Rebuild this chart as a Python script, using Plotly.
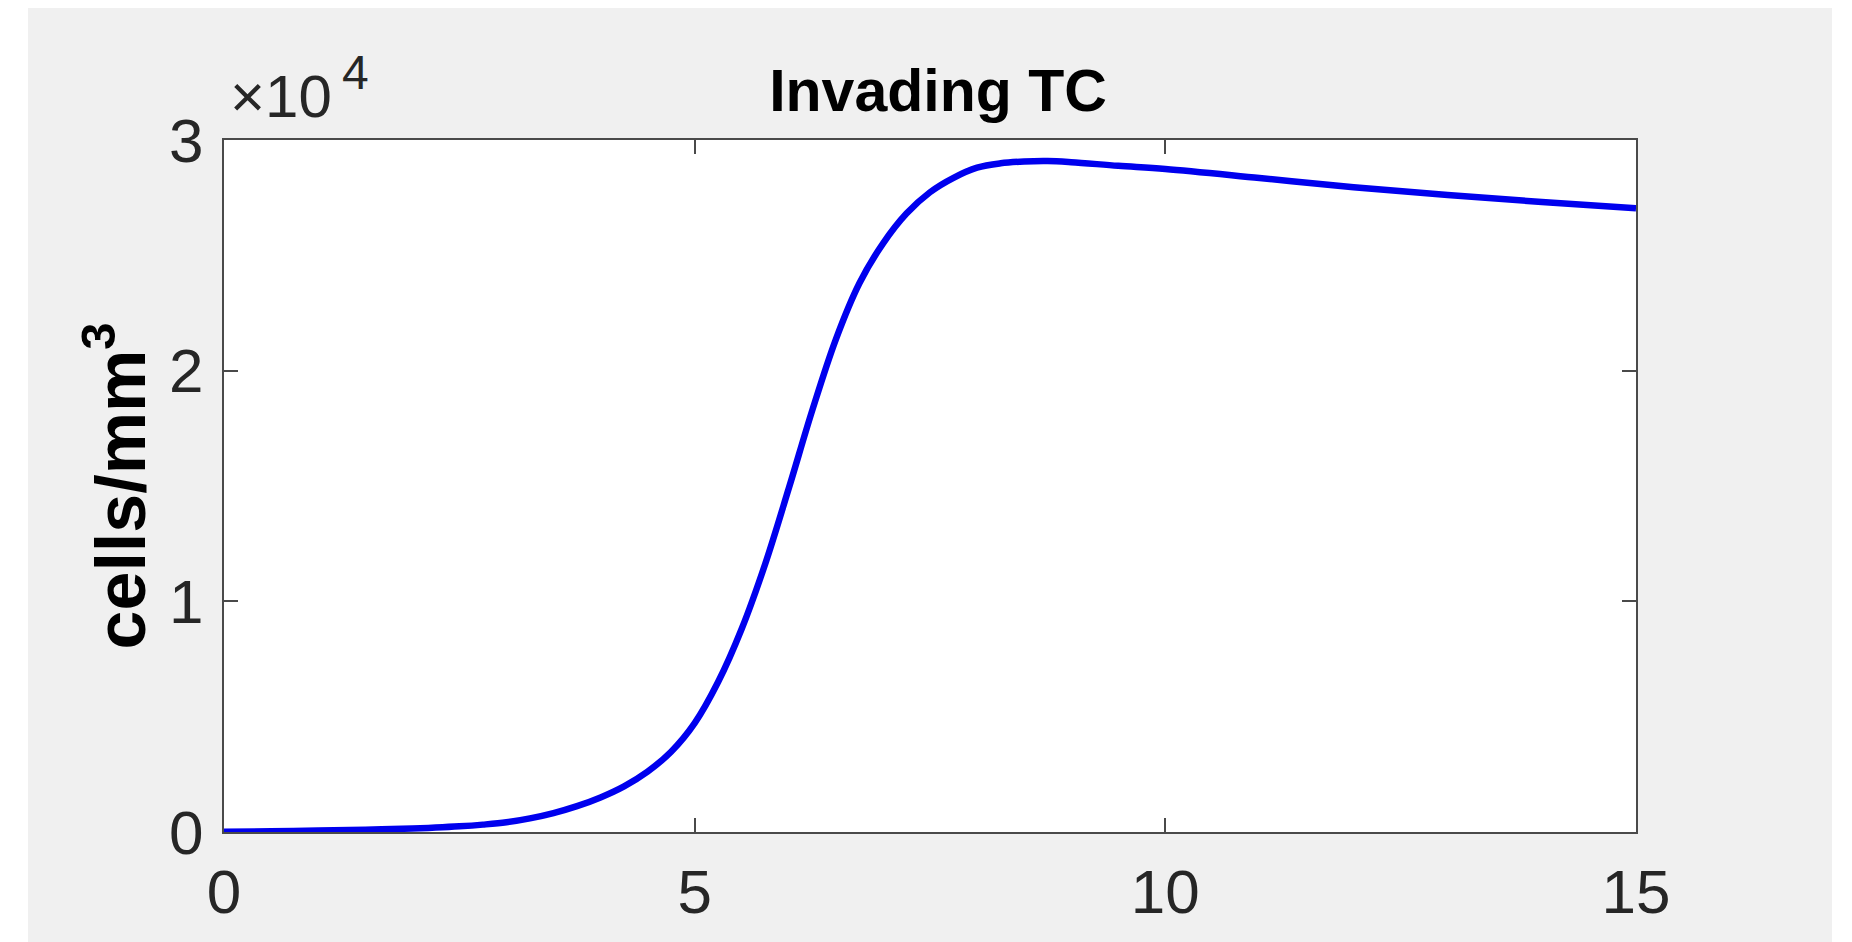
import plotly.graph_objects as go

# ---- data ----
t_days = [0, 0.5, 1, 1.5, 2, 2.25, 2.5, 2.75, 3, 3.25, 3.5, 3.75, 4, 4.25, 4.5,
          4.75, 5, 5.25, 5.5, 5.75, 6, 6.25, 6.5, 6.75, 7, 7.25, 7.5, 7.75, 8,
          8.25, 8.5, 8.75, 9, 9.5, 10, 11, 12, 13, 14, 15]
invading_tc = [10, 30, 60, 100, 150, 190, 245, 320, 420, 590, 820, 1120, 1500,
               1980, 2620, 3480, 4720, 6510, 8810, 11630, 14900, 18290, 21360,
               23790, 25510, 26810, 27735, 28360, 28800, 28990, 29070, 29090,
               29040, 28880, 28740, 28350, 27950, 27620, 27310, 27040]
x_ticks = [0, 5, 10, 15]
x_ticktext = ["0", "5", "10", "15"]
y_ticks = [0, 10000, 20000, 30000]
y_ticktext = ["0", "1", "2", "3"]
title_text = "<b>Invading TC</b>"
y_label = "<b>cells/mm<sup>3</sup></b>"
exp_base = "\u00d710"
exp_power = "4"

# ---- layout geometry (page pixels; the page body adds an 8px offset) ----
OFF = 8
W, H = 1852 - OFF, 942 - OFF
L, R, T, B = 224 - OFF, 1636 - OFF, 139.5 - OFF, 832 - OFF
PW, PH = R - L, B - T


def px(xpage):
    return (xpage - OFF - L) / PW


def py(ypage):
    return (B - (ypage - OFF)) / PH


FONT = "Liberation Sans, Arial, Helvetica, sans-serif"
AX = "#4a4a4a"
TXT = "#262626"

fig = go.Figure()
fig.add_trace(go.Scatter(
    x=t_days, y=invading_tc, mode="lines",
    line=dict(color="#0000ee", width=6.5, shape="spline", smoothing=1.0),
    hoverinfo="x+y", showlegend=False,
))

axis_common = dict(
    showgrid=False, zeroline=False, showline=True, linecolor=AX, linewidth=2,
    mirror="ticks", ticks="inside", ticklen=14, tickwidth=2, tickcolor=AX,
    tickfont=dict(family=FONT, size=62, color=TXT), automargin=False,
)

fig.update_layout(
    width=W, height=H,
    margin=dict(l=L, r=W - R, t=T, b=H - B, pad=0),
    paper_bgcolor="#f0f0f0", plot_bgcolor="#ffffff",
    xaxis=dict(range=[0, 15], tickvals=x_ticks, ticktext=x_ticktext,
               ticklabelstandoff=5, **axis_common),
    yaxis=dict(range=[0, 30000], tickvals=y_ticks, ticktext=y_ticktext,
               ticklabelstandoff=6,
               title=dict(text=y_label, font=dict(family=FONT, size=70, color="#000000"),
                          standoff=1),
               **axis_common),
    title=dict(text=title_text, font=dict(family=FONT, size=59, color="#000000"),
               xref="paper", x=px(938), xanchor="center",
               yref="container", y=1 - (90.5 - OFF) / H, yanchor="middle"),
)

# MATLAB-style exponent label "x10^4"
fig.add_annotation(
    text=exp_base, xref="paper", yref="paper",
    x=px(228), y=py(96), xanchor="left", yanchor="middle",
    showarrow=False, font=dict(family=FONT, size=60, color=TXT),
)
fig.add_annotation(
    text=exp_power, xref="paper", yref="paper",
    x=px(340), y=py(72), xanchor="left", yanchor="middle",
    showarrow=False, font=dict(family=FONT, size=48, color=TXT),
)

# white outer border strips around the grey figure area (page coords)
for (x0, x1, y0, y1) in [(0, 28, 0, 942), (1832, 1852, 0, 942)]:
    fig.add_shape(type="rect", xref="paper", yref="paper",
                  x0=px(x0), x1=px(x1), y0=py(y1), y1=py(y0),
                  fillcolor="#ffffff", line=dict(width=0), layer="above")

fig.write_html("out.html")
